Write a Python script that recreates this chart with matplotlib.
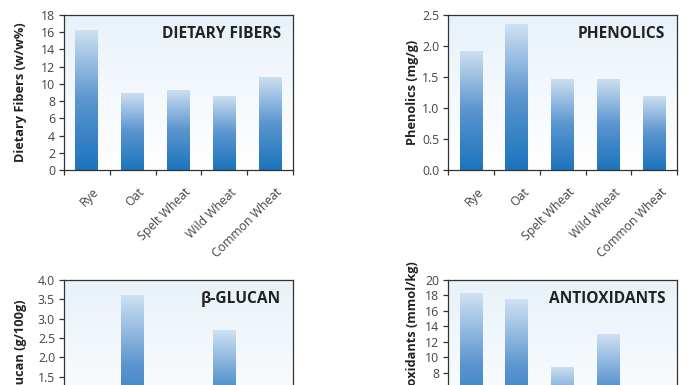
import matplotlib
matplotlib.use("Agg")
import matplotlib.pyplot as plt
import numpy as np
from matplotlib.colors import LinearSegmentedColormap

plt.rcParams['font.family'] = ['Open Sans', 'DejaVu Sans']

# data
grains = ["Rye", "Oat", "Spelt Wheat", "Wild Wheat", "Common Wheat"]
fibers = [16.3, 9.0, 9.3, 8.6, 10.8]
phenolics = [1.92, 2.35, 1.47, 1.47, 1.20]
glucan = [1.0, 3.6, 0.8, 2.7, 0.7]
antioxidants = [18.3, 17.5, 8.8, 13.0, 6.5]

bar_cmap = LinearSegmentedColormap.from_list("bar", ["#1c74bd", "#5b95cf", "#cfe1f2"])
bg_cmap = LinearSegmentedColormap.from_list("bg", ["#ffffff", "#e8f2fa"])

fig = plt.figure(figsize=(6.96, 3.85), dpi=100)

def panel(rect, values, ymax, ystep, fmt, ylabel, title, label_x, label_y=0.5):
    ax = fig.add_axes(rect)
    x = np.arange(len(values))
    # background gradient
    grad = np.linspace(0, 1, 256).reshape(-1, 1)
    ax.imshow(grad, cmap=bg_cmap, origin="lower", aspect="auto",
              extent=(-0.5, len(values) - 0.5, 0, ymax), zorder=0)
    bars = ax.bar(x, values, width=0.5, color="none", zorder=2)
    for b in bars:
        x0, y0 = b.get_x(), b.get_y()
        im = ax.imshow(grad, cmap=bar_cmap, origin="lower", aspect="auto",
                       extent=(x0, x0 + b.get_width(), y0, y0 + b.get_height()), zorder=2)
        im.set_clip_path(b)
    ax.set_xlim(-0.5, len(values) - 0.5)
    ax.set_ylim(0, ymax)
    yt = np.arange(0, ymax + ystep / 2, ystep)
    ax.set_yticks(yt)
    ax.set_yticklabels([fmt.format(v) for v in yt])
    # ticks sit between the categories
    ax.set_xticks(np.arange(-0.5, len(values), 1.0))
    ax.set_xticklabels([])
    for i, name in enumerate(grains):
        ax.text(i + 0.12, -ymax * 0.10, name, rotation=45, ha="right", va="top",
                rotation_mode="anchor", fontsize=8.8, color="#444444")
    ax.tick_params(axis="both", direction="out", length=3.5, width=0.9, color="#333333",
                   labelcolor="#444444", labelsize=8.8, pad=3)
    for s in ax.spines.values():
        s.set_color("#333333")
        s.set_linewidth(0.9)
    ax.set_ylabel(ylabel, fontsize=9.2, fontweight="bold", color="#222222")
    ax.yaxis.set_label_coords(label_x, label_y)
    ax.text(0.948, 0.875, title, transform=ax.transAxes, ha="right", va="center",
            fontsize=11.2, fontweight="bold", color="#222222", zorder=5)
    return ax

panel([0.092, 0.558, 0.329, 0.403], fibers, 18, 2, "{:.0f}", "Dietary Fibers (w/w%)", "DIETARY FIBERS", -0.162)
panel([0.644, 0.558, 0.329, 0.403], phenolics, 2.5, 0.5, "{:.1f}", "Phenolics (mg/g)", "PHENOLICS", -0.128)
panel([0.092, -0.130, 0.329, 0.403], glucan, 4.0, 0.5, "{:.1f}", "β-Glucan (g/100g)", "β-GLUCAN", -0.162, 0.516)
panel([0.644, -0.130, 0.329, 0.403], antioxidants, 20, 2, "{:.0f}", "Antioxidants (mmol/kg)", "ANTIOXIDANTS", -0.128, 0.632)

fig.savefig("out.png", dpi=100)
